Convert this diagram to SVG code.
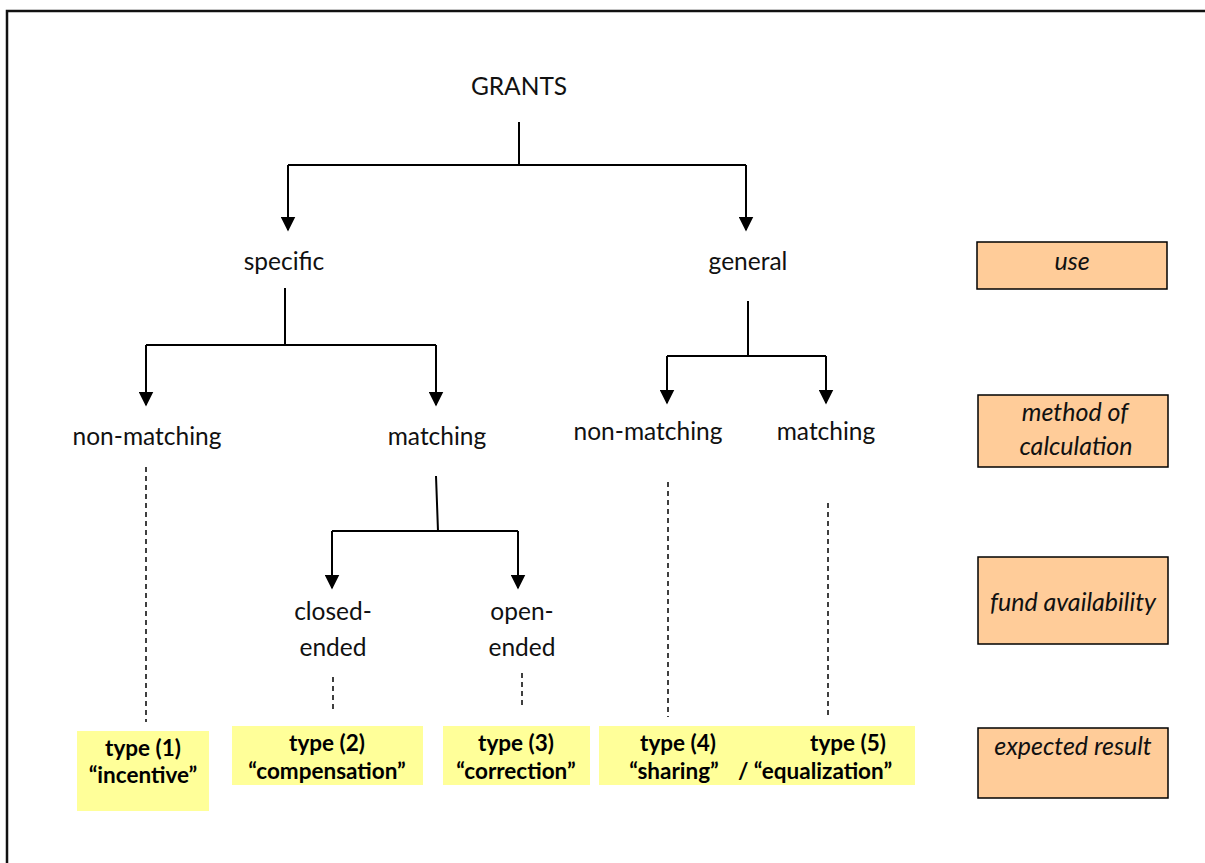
<svg xmlns="http://www.w3.org/2000/svg" width="1205" height="863" viewBox="0 0 1205 863">
<defs>
<style>
.t{font-family:Lato,"Liberation Sans",sans-serif;font-size:24.5px;fill:#111;text-anchor:middle}
.b{font-family:Lato,"Liberation Sans",sans-serif;font-size:22.5px;font-weight:bold;fill:#000;text-anchor:middle}
.i{font-family:Lato,"Liberation Sans",sans-serif;font-size:25px;font-style:italic;fill:#111;text-anchor:middle}
.ln{stroke:#000;stroke-width:2;fill:none}
.ds{stroke:#000;stroke-width:1.5;fill:none;stroke-dasharray:5,4}
.y{fill:#FFFF99}
.o{fill:#FFCC99;stroke:#000;stroke-width:1.5}
</style>
<marker id="ah" viewBox="0 0 10 10" refX="9" refY="5" markerWidth="15" markerHeight="15" markerUnits="userSpaceOnUse" orient="auto">
<path d="M0,0 L10,5 L0,10 z" fill="#000"/>
</marker>
</defs>
<rect width="1205" height="863" fill="#fff"/>
<path d="M7,863 V11 H1205" stroke="#111" stroke-width="2.5" fill="none"/>

<g id="connectors">
<path class="ln" d="M519,122 V165 M288,165 H746"/>
<path class="ln" d="M288,165 V230" marker-end="url(#ah)"/>
<path class="ln" d="M746,165 V230" marker-end="url(#ah)"/>
<path class="ln" d="M285,288 V345 M146,345 H436"/>
<path class="ln" d="M146,345 V405" marker-end="url(#ah)"/>
<path class="ln" d="M436,345 V405" marker-end="url(#ah)"/>
<path class="ln" d="M748,301 V356 M667,356 H826"/>
<path class="ln" d="M667,356 V403" marker-end="url(#ah)"/>
<path class="ln" d="M826,356 V403" marker-end="url(#ah)"/>
<path class="ln" d="M436,476 L438,531 M332,531 H518"/>
<path class="ln" d="M332,531 V588" marker-end="url(#ah)"/>
<path class="ln" d="M518,531 V588" marker-end="url(#ah)"/>
<path class="ds" d="M146,467 V722"/>
<path class="ds" d="M333,677 V712"/>
<path class="ds" d="M522,673 V707"/>
<path class="ds" d="M668,482 V717"/>
<path class="ds" d="M828,503 V717"/>
</g>

<g id="grants"><text class="t" x="519" y="95">GRANTS</text></g>
<g id="specific"><text class="t" x="284" y="270">specific</text></g>
<g id="general"><text class="t" x="748" y="270">general</text></g>
<g id="nonmatching1"><text class="t" x="147" y="445">non-matching</text></g>
<g id="matching1"><text class="t" x="437" y="445">matching</text></g>
<g id="nonmatching2"><text class="t" x="648" y="440">non-matching</text></g>
<g id="matching2"><text class="t" x="826" y="440">matching</text></g>
<g id="closed"><text class="t" x="333" y="620">closed-</text><text class="t" x="333" y="656">ended</text></g>
<g id="open"><text class="t" x="522" y="620">open-</text><text class="t" x="522" y="656">ended</text></g>

<g id="type1"><rect class="y" x="77" y="731" width="132" height="80"/>
<text class="b" x="143" y="756">type (1)</text><text class="b" x="143" y="783">“incentive”</text></g>
<g id="type2"><rect class="y" x="232" y="726" width="191" height="59"/>
<text class="b" x="327" y="751">type (2)</text><text class="b" x="327" y="779">“compensation”</text></g>
<g id="type3"><rect class="y" x="443" y="726" width="147" height="59"/>
<text class="b" x="516" y="751">type (3)</text><text class="b" x="516" y="779">“correction”</text></g>
<g id="type45"><rect class="y" x="599" y="726" width="316" height="59"/>
<text class="b" x="678" y="751">type (4)</text><text class="b" x="848" y="751">type (5)</text>
<text class="b" x="674" y="779">“sharing”</text><text class="b" x="815" y="779">/ “equalization”</text></g>

<g id="use"><rect class="o" x="977" y="242" width="190" height="47"/><text class="i" x="1072" y="270">use</text></g>
<g id="method"><rect class="o" x="978" y="395" width="190" height="72"/><text class="i" x="1075" y="421">method of</text><text class="i" x="1076" y="455">calculation</text></g>
<g id="fund"><rect class="o" x="978" y="557" width="190" height="87"/><text class="i" x="1073" y="611">fund availability</text></g>
<g id="expected"><rect class="o" x="978" y="728" width="190" height="70"/><text class="i" x="1073" y="755">expected result</text></g>
</svg>
